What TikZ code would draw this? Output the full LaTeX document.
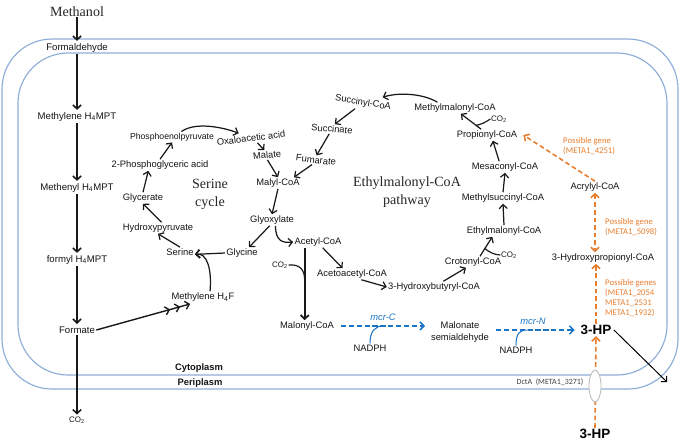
\documentclass[tikz,border=0pt]{standalone}
\usepackage{fontspec}
\setmainfont{Liberation Sans}
\newfontfamily\romfont{Liberation Serif}
\newfontfamily\genefont{Carlito}
\usepackage{tikz}
\usetikzlibrary{arrows.meta}
\usetikzlibrary{shapes.geometric}
\definecolor{membr}{RGB}{143,174,216}
\definecolor{mcrblue}{RGB}{28,117,196}
\definecolor{geneor}{RGB}{232,125,45}
\tikzset{
  met/.style = {font=\fontsize{8}{9.6}\selectfont, text=black!92, inner sep=1pt,
    align=center},
  cmet/.style = {met, font=\fontsize{8.2}{9.6}\selectfont},% C1 column
  small/.style = {font=\fontsize{6.8}{8}\selectfont, text=black!90, inner sep=0.5pt},
  title/.style = {font=\romfont\fontsize{12}{15.3}\selectfont, align=center,
    text=black!85, inner sep=0pt},
  gene/.style = {font=\genefont\fontsize{7.4}{8.6}\selectfont, text=geneor,
    align=left, anchor=west, inner sep=0pt},
  hpbox/.style = {font=\bfseries\fontsize{11.5}{13}\selectfont, inner sep=1pt},
  rx/.style = {->, line width=1.05pt, black!90},
  rxc/.style = {rx, line width=1.35pt, shorten >=1pt},% C1 column
  side/.style = {line width=1pt, black!90},
  mcr/.style = {->, mcrblue, line width=1.3pt, dash pattern=on 4.5pt off 2.2pt},
  mcrlab/.style = {font=\itshape\fontsize{8}{9}\selectfont, text=mcrblue, inner sep=1pt},
  hpx/.style = {->, geneor, line width=1.35pt, dash pattern=on 4pt off 2.5pt},
  membrane/.style = {draw=membr, line width=1pt}
}

\begin{document}
\begin{tikzpicture}[x=0.03cm, y=-0.03cm, >={Straight Barb[length=3.4pt,width=7pt]}]
\useasboundingbox (0,0) rectangle (685,442);

% membranes
\draw[membrane, rounded corners=1.5cm] (2,39) rectangle (678,389);
\draw[membrane, rounded corners=1.5cm] (18,53) rectangle (667,375);
\node[met, font=\bfseries\fontsize{8}{9}\selectfont] (cyto) at (199,368) {Cytoplasm};
\node[met, font=\bfseries\fontsize{8}{9}\selectfont] (peri) at (200,383) {Periplasm};

% C1 column
\node[title] (meoh) at (77,12) {Methanol};
\node[cmet] (hcho) at (77,48) {Formaldehyde};
\node[cmet] (mh4mpt) at (77,117) {Methylene H\textsubscript{4}MPT};
\node[cmet] (mnh4mpt) at (77,188) {Methenyl H\textsubscript{4}MPT};
\node[cmet] (fh4mpt) at (77,260) {formyl H\textsubscript{4}MPT};
\node[cmet] (form) at (77,330) {Formate};
\node[small] (co2a) at (77,420) {CO\textsubscript{2}};

\draw[rxc] (meoh) -- (hcho);
\draw[rxc] (hcho) -- (mh4mpt);
\draw[rxc] (mh4mpt) -- (mnh4mpt);
\draw[rxc] (mnh4mpt) -- (fh4mpt);
\draw[rxc] (fh4mpt) -- (form);
\draw[rxc] (form) -- (co2a);

% serine cycle
\node[met] (mh4f) at (203,297) {Methylene H\textsubscript{4}F};
\node[met] (ser) at (180,252) {Serine};
\node[met] (hpyr) at (158,228) {Hydroxypyruvate};
\node[met] (glyc) at (143,198) {Glycerate};
\node[met] (pga) at (160,165) {2-Phosphoglyceric acid};
\node[met, font=\fontsize{7.4}{9}\selectfont] (pep) at (172,137) {Phosphoenolpyruvate};
\node[met, rotate=7] (oaa) at (251,138) {Oxaloacetic acid};
\node[met, rotate=5] (mal) at (267,155) {Malate};
\node[met] (malcoa) at (278,183) {Malyl-CoA};
\node[met] (glx) at (272,220) {Glyoxylate};
\node[met] (gly) at (242,253) {Glycine};
\node[title] (sertitle) at (210,194) {Serine\\cycle};

\draw[line width=1.2pt, black!90,
  -{Straight Barb[length=3.4pt,width=7pt,sep=4pt]Straight Barb[length=3.4pt,width=7pt,sep=4pt]Straight Barb[length=3.4pt,width=7pt]}]
  (form.east) -- ([xshift=-11pt,yshift=-1pt]mh4f.south);
\draw[rx] ([xshift=6pt]mh4f.north) .. controls +(2,-22) and +(12,-2) .. ([yshift=-2pt]ser.east);
\draw[rx] (gly.west) -- ([yshift=-2pt]ser.east);
\draw[rx] (ser.north) -- (hpyr.south);
\draw[rx] ([xshift=3pt]hpyr.north) -- (glyc.south);
\draw[rx] (glyc.north) -- ([xshift=-10pt]pga.south);
\draw[rx] (pga.north) -- (pep.south);
\draw[rx] ([xshift=8pt]pep.north) .. controls +(14,-10) and +(-16,-6) .. ([xshift=-10pt]oaa.north);
\draw[rx] ([xshift=5pt]oaa.south) -- ([xshift=-2pt]mal.north);
\draw[rx] (mal.south) -- (malcoa.north);
\draw[rx] (malcoa.south) -- (glx.north);
\draw[rx] ([xshift=-2pt]glx.south) -- ([xshift=6pt]gly.north);

% ethylmalonyl-CoA pathway
\node[met] (accoa) at (318,242) {Acetyl-CoA};
\node[met] (aacoa) at (352,274) {Acetoacetyl-CoA};
\node[met] (hbcoa) at (434,287) {3-Hydroxybutyryl-CoA};
\node[met] (crcoa) at (473,262) {Crotonyl-CoA};
\node[small] (co2c) at (509,255) {CO\textsubscript{2}};
\node[met] (emcoa) at (504,231) {Ethylmalonyl-CoA};
\node[met] (mscoa) at (503,198) {Methylsuccinyl-CoA};
\node[met] (mescoa) at (505,167) {Mesaconyl-CoA};
\node[met] (prcoa) at (487,135) {Propionyl-CoA};
\node[small] (co2p) at (499,119) {CO\textsubscript{2}};
\node[met] (mmcoa) at (455,108) {Methylmalonyl-CoA};
\node[met, rotate=-9] (succoa) at (363,103) {Succinyl-CoA};
\node[met, rotate=-5] (succ) at (332,129) {Succinate};
\node[met, rotate=-7] (fum) at (316,160) {Fumarate};
\node[title] (emctitle) at (407,192) {Ethylmalonyl-CoA\\pathway};

\draw[rx] ([xshift=3pt]glx.south) .. controls +(0,16) and +(-10,1) .. (accoa.west);
\draw[rx] ([xshift=4pt]accoa.south) -- ([xshift=-8pt]aacoa.north);
\draw[rx] ([xshift=8pt]aacoa.south) -- (hbcoa.west);
\draw[rx] ([xshift=8pt]hbcoa.north) -- ([xshift=-6pt]crcoa.south);
\draw[rx] ([xshift=6pt]crcoa.north) -- coordinate[pos=0.4] (jc) ([xshift=-10pt]emcoa.south);
\draw[side] (co2c.west) .. controls +(-6,0) and +(3,3) .. (jc);
\draw[rx] (emcoa.north) -- (mscoa.south);
\draw[rx] (mscoa.north) -- (mescoa.south);
\draw[rx] ([xshift=-5pt]mescoa.north) -- ([xshift=5pt]prcoa.south);
\draw[rx] ([xshift=-5pt]prcoa.north) -- coordinate[pos=0.25] (jp) ([xshift=5pt]mmcoa.south);
\draw[side] (co2p.west) .. controls +(-6,4) and +(5,-1) .. (jp);
\draw[rx] ([xshift=-15pt]mmcoa.north) .. controls +(-15,-9) and +(15,-5) .. ([xshift=16pt]succoa.north);
\draw[rx] ([xshift=-6pt]succoa.south) -- ([xshift=2pt]succ.north);
\draw[rx] ([xshift=-2pt]succ.south) -- (fum.north);
\draw[rx] ([xshift=-3pt]fum.south) -- ([xshift=-6pt]malcoa.north east);

% malonyl-CoA to 3-HP
\node[met] (malocoa) at (307,326) {Malonyl-CoA};
\node[small] (co2m) at (280,265) {CO\textsubscript{2}};
\node[met] (nadph1) at (370,348) {NADPH};
\node[met, font=\fontsize{8}{10.2}\selectfont] (msa) at (460,332) {Malonate\\semialdehyde};
\node[met] (nadph2) at (516,350) {NADPH};
\node[hpbox] (hp) at (596,330) {3-HP};

\draw[rx, line width=1.5pt] ([xshift=-2pt]malocoa.north |- accoa.south) -- coordinate[pos=0.45] (jm) ([xshift=-2pt]malocoa.north);
\draw[side] (co2m.east) .. controls +(12,-1) and +(0,-10) .. (jm);
\draw[mcr] ([xshift=5pt]malocoa.east) -- coordinate[pos=0.5] (jn1)
  node[pos=0.5, above=3pt, mcrlab] (mcrc) {mcr-C} ([xshift=-4pt]malocoa.east -| msa.west);
\draw[mcrblue, line width=0.9pt] (nadph1.north) .. controls +(0,-12) and +(-8,0) .. (jn1);
\draw[mcr] ([xshift=5pt]msa.east |- hp.west) -- coordinate[pos=0.4] (jn2)
  node[pos=0.47, above=3pt, mcrlab] (mcrn) {mcr-N} ([xshift=-4pt]hp.west);
\draw[mcrblue, line width=0.9pt] (nadph2.north) .. controls +(0,-12) and +(-8,0) .. (jn2);

% 3-HP side
\node[met] (hpcoa) at (603,258) {3-Hydroxypropionyl-CoA};
\node[met] (acrcoa) at (595,187) {Acrylyl-CoA};
\node[hpbox] (hpout) at (595,434) {3-HP};
\node[gene] (g4251) at (563,146) {Possible gene\\(META1\_4251)};
\node[gene] (g5098) at (605,227) {Possible gene\\(META1\_5098)};
\node[gene] (g2054) at (605,298) {Possible genes\\(META1\_2054\\META1\_2531\\META1\_1932)};

\draw[hpx] (hp.north) -- (hp.north |- hpcoa.south);
\draw[hpx, <->] (acrcoa.south) -- (acrcoa.south |- hpcoa.north);
\draw[hpx] (acrcoa.north) -- ([xshift=4pt]prcoa.east);
\draw[hpx] (hpout.north) -- (hp.south);
\coordinate (efflux) at (667,382);
\draw[->, line width=0.85pt] ([xshift=1pt]hp.east) -- (efflux);

% transporter
\node[ellipse, draw=gray!55, fill=white, line width=0.7pt, minimum width=0.36cm,
  minimum height=0.95cm, inner sep=0pt] (dcta) at (595,386) {};
\node[font=\genefont\fontsize{6.8}{7}\selectfont, text=black!75, inner sep=0pt] (dctalab) at (550,382) {DctA\ \ (META1\_3271)};
\end{tikzpicture}
\end{document}
